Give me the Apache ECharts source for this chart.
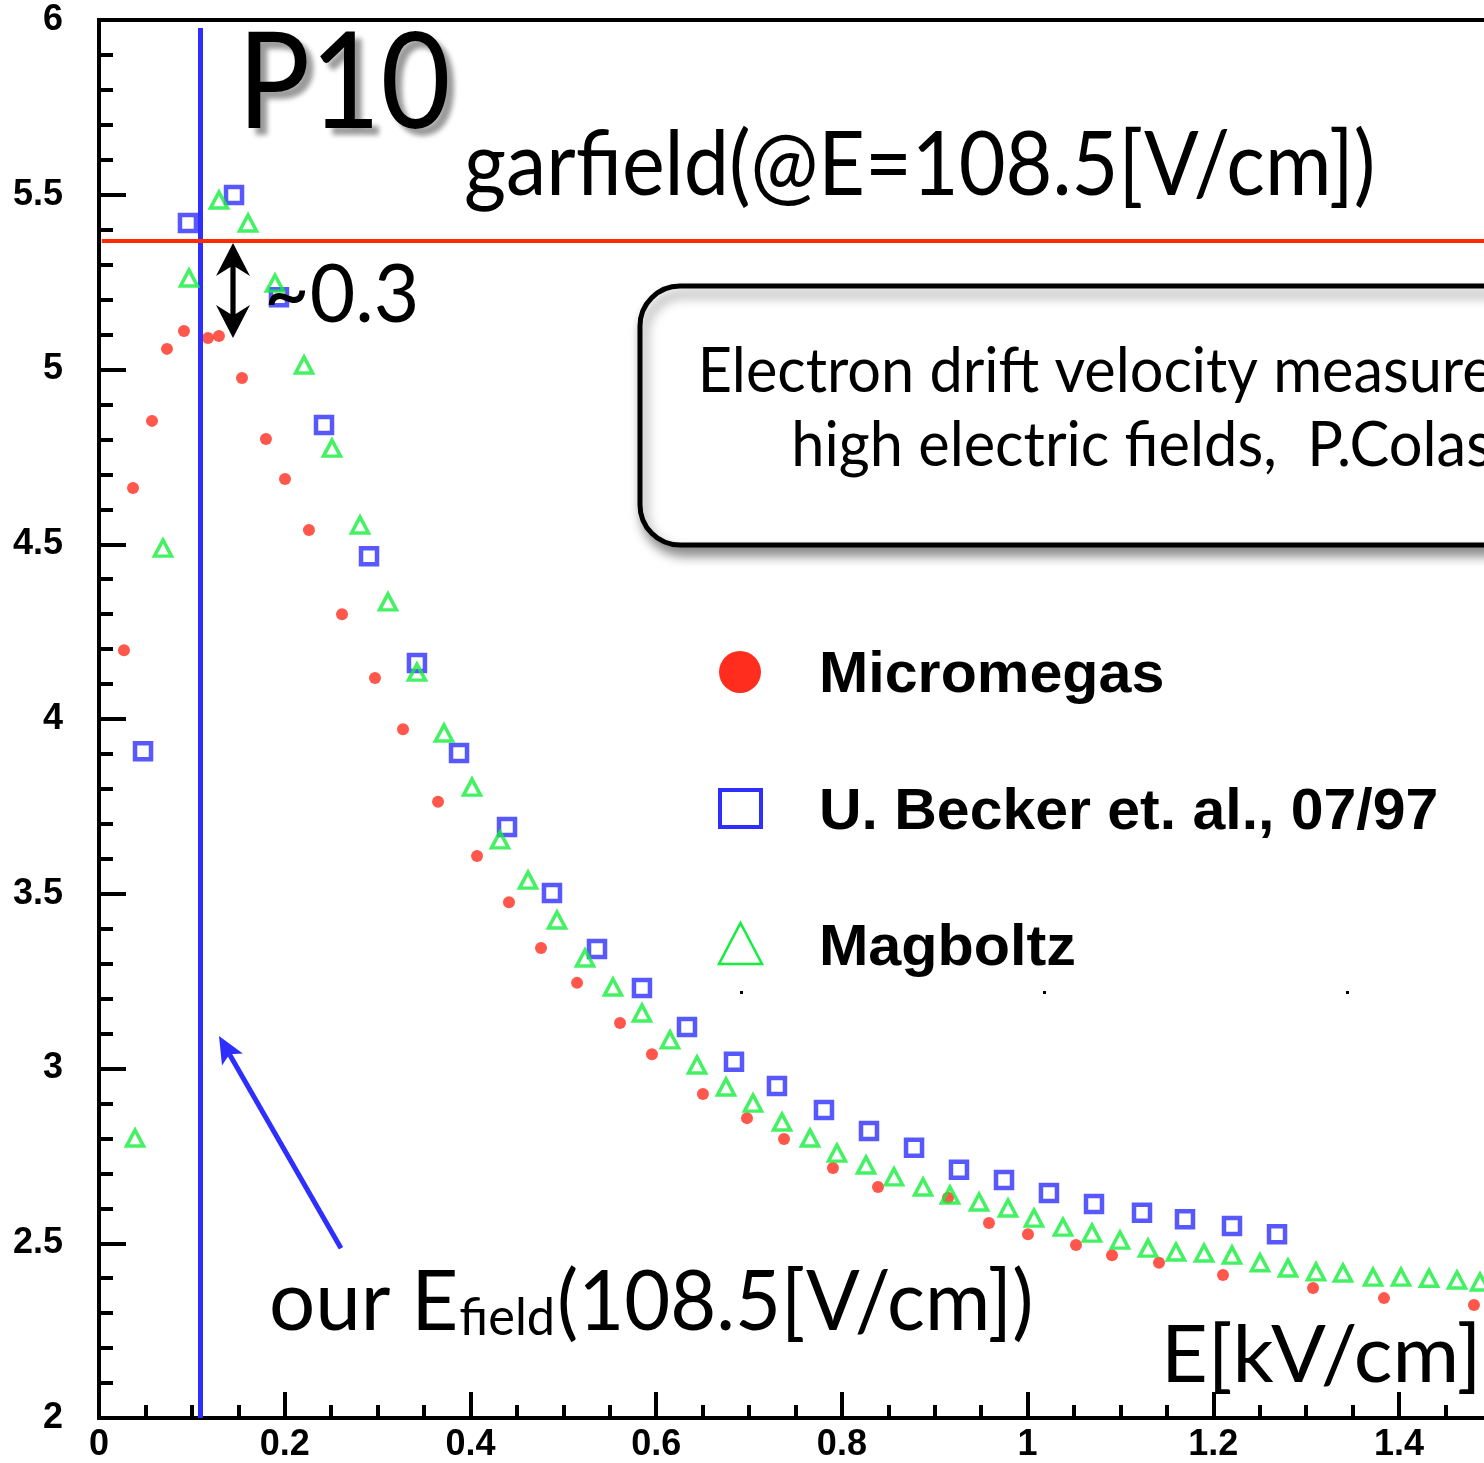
<!DOCTYPE html>
<html><head><meta charset="utf-8">
<script src="https://cdn.jsdelivr.net/npm/echarts@6/dist/echarts.min.js"></script>
<style>html,body{margin:0;padding:0;background:#fff}#c{width:1484px;height:1463px}</style>
</head><body><div id="c"></div>
<script>
// ---------------- data (E in kV/cm, drift velocity in cm/us) ----------------
const micromegasE = [0.0269,0.0366,0.0571,0.0732,0.0915,0.1174,0.1292,0.1540,0.1798,0.2003,0.2261,0.2617,0.2972,0.3274,0.3651,0.4071,0.4415,0.4760,0.5148,0.5611,0.5955,0.6504,0.6978,0.7377,0.7904,0.8389,0.9143,0.9584,1.0004,1.0521,1.0909,1.1415,1.2104,1.3074,1.3838,1.4807];
const micromegasV = [4.197,4.661,4.853,5.059,5.110,5.090,5.096,4.976,4.801,4.687,4.541,4.300,4.117,3.971,3.763,3.608,3.476,3.345,3.245,3.130,3.041,2.927,2.858,2.798,2.715,2.661,2.630,2.558,2.526,2.495,2.466,2.444,2.409,2.372,2.343,2.323];
const beckerE = [0.0474,0.0958,0.1454,0.1938,0.2423,0.2908,0.3424,0.3877,0.4394,0.4878,0.5363,0.5847,0.6332,0.6838,0.7301,0.7807,0.8292,0.8777,0.9261,0.9746,1.0230,1.0715,1.1232,1.1695,1.2201,1.2686];
const beckerV = [3.908,5.419,5.499,5.207,4.841,4.466,4.160,3.903,3.691,3.502,3.342,3.230,3.119,3.019,2.950,2.881,2.821,2.773,2.710,2.681,2.644,2.612,2.587,2.569,2.549,2.526];
const magboltzE = [0.0388,0.0689,0.0969,0.1292,0.1605,0.1895,0.2208,0.2509,0.2811,0.3112,0.3424,0.3715,0.4017,0.4318,0.4620,0.4932,0.5234,0.5535,0.5847,0.6149,0.6440,0.6752,0.7043,0.7355,0.7657,0.7947,0.8260,0.8561,0.8874,0.9164,0.9477,0.9789,1.0069,1.0381,1.0693,1.0995,1.1297,1.1598,1.1900,1.2201,1.2503,1.2804,1.3106,1.3396,1.3720,1.4021,1.4323,1.4624,1.4872];
const magboltzV = [2.801,4.489,5.262,5.485,5.419,5.247,5.013,4.775,4.555,4.335,4.134,3.960,3.805,3.654,3.539,3.425,3.316,3.233,3.159,3.082,3.010,2.947,2.901,2.847,2.801,2.758,2.724,2.690,2.661,2.638,2.618,2.601,2.572,2.546,2.529,2.509,2.486,2.475,2.472,2.466,2.444,2.429,2.418,2.415,2.403,2.403,2.400,2.395,2.389];
const seriesNames = ['Micromegas', 'U. Becker et. al., 07/97', 'Magboltz'];
const xAxisRange = [0, 1.6, 0.2];   // min, max, interval
const yAxisRange = [2, 6, 0.5];
const E_FIELD = 0.1085;            // our field, kV/cm
const GARFIELD_V = 5.369;          // garfield drift velocity
const BLUE_LINE_TOP = 5.977;
const ARROW_X = 0.1443, ARROW_TOP = 5.362, ARROW_BOT = 5.090;
const BLUE_ARROW_TIP = [0.1292, 3.093], BLUE_ARROW_TAIL = [0.2606, 2.486];

const RED = '#ff2d1e', BLUE = '#2e2eff', GREEN = '#14ee3c';
const zip = (a, b) => a.map((v, i) => [v, b[i]]);

const chart = echarts.init(document.getElementById('c'), null, {renderer: 'canvas'});
const labelFont = {fontFamily: '"Liberation Sans", Arial, sans-serif', fontWeight: 'bold', fontSize: 36, color: '#000'};

chart.setOption({
  animation: false,
  backgroundColor: '#fff',
  grid: {left: 99, top: 20, width: 1.6 * 928.6, height: 1398, show: true, borderColor: '#000', borderWidth: 4,
         containLabel: false, outerBoundsMode: 'none'},
  xAxis: {
    type: 'value', min: xAxisRange[0], max: xAxisRange[1], interval: xAxisRange[2],
    axisLine: {show: true, onZero: false, lineStyle: {color: '#000', width: 4}},
    axisTick: {show: true, inside: true, length: 26, lineStyle: {color: '#000', width: 4}},
    minorTick: {show: true, splitNumber: 4, length: 13, lineStyle: {color: '#000', width: 4}},
    splitLine: {show: false},
    axisLabel: Object.assign({margin: 9}, labelFont)
  },
  yAxis: {
    type: 'value', min: yAxisRange[0], max: yAxisRange[1], interval: yAxisRange[2],
    axisLine: {show: true, onZero: false, lineStyle: {color: '#000', width: 4}},
    axisTick: {show: true, inside: true, length: 27, lineStyle: {color: '#000', width: 4}},
    minorTick: {show: true, splitNumber: 5, length: 14, lineStyle: {color: '#000', width: 4}},
    splitLine: {show: false},
    axisLabel: Object.assign({margin: 36}, labelFont)
  },
  series: [
    {
      name: seriesNames[0], type: 'scatter', data: zip(micromegasE, micromegasV),
      symbol: 'circle', symbolSize: 12, itemStyle: {color: RED}, z: 3,
      emphasis: {disabled: true},
      markLine: {
        silent: true, symbol: 'none', label: {show: false}, animation: false,
        data: [
          [{coord: [E_FIELD, BLUE_LINE_TOP], lineStyle: {color: BLUE, width: 5, type: 'solid'}}, {coord: [E_FIELD, yAxisRange[0]]}],
          [{coord: [0.003, GARFIELD_V], lineStyle: {color: '#ff2a00', width: 4, type: 'solid'}}, {coord: [xAxisRange[1], GARFIELD_V]}]
        ]
      }
    },
    {
      name: seriesNames[1], type: 'scatter', data: zip(beckerE, beckerV),
      symbol: 'rect', symbolSize: 16, z: 4,
      itemStyle: {color: 'rgba(255,255,255,0)', borderColor: BLUE, borderWidth: 4.5},
      emphasis: {disabled: true}
    },
    {
      name: seriesNames[2], type: 'scatter', data: zip(magboltzE, magboltzV),
      symbol: 'triangle', symbolSize: [17, 16], z: 5,
      itemStyle: {color: 'rgba(255,255,255,0)', borderColor: GREEN, borderWidth: 3.5},
      emphasis: {disabled: true}
    }
  ]
});

// ---------------- annotations ----------------
const mctx = document.createElement('canvas').getContext('2d');
function fitText(o) {
  mctx.font = o.font;
  mctx.textAlign = 'left';
  mctx.textBaseline = 'alphabetic';
  const mw = mctx.measureText(o.measure || o.text);
  const mr = mctx.measureText(o.ref);
  const mt = mctx.measureText(o.text);
  mctx.textBaseline = 'middle';
  const mm = mctx.measureText(o.text);
  const d = mt.actualBoundingBoxAscent - mm.actualBoundingBoxAscent;
  const inkW = mw.actualBoundingBoxLeft + mw.actualBoundingBoxRight;
  const sx = (o.right - o.left) / inkW;
  const sy = (o.baseline - o.top) / mr.actualBoundingBoxAscent;
  const style = {
    text: o.text, font: o.font, x: mw.actualBoundingBoxLeft, y: -d,
    align: 'left', verticalAlign: 'middle', textAlign: 'left', textVerticalAlign: 'middle',
    fill: o.fill || '#000'
  };
  if (o.shadow) {
    Object.assign(style, {
      textShadowColor: o.shadow[0], textShadowBlur: o.shadow[1], textShadowOffsetX: o.shadow[2], textShadowOffsetY: o.shadow[3],
      shadowColor: o.shadow[0], shadowBlur: o.shadow[1], shadowOffsetX: o.shadow[2], shadowOffsetY: o.shadow[3]
    });
  }
  return {type: 'text', x: o.left, y: o.baseline, scaleX: sx, scaleY: sy, originX: 0, originY: 0,
          z: o.z || 100, silent: true, style: style};
}
const px = (x, y) => chart.convertToPixel({gridIndex: 0}, [x, y]);

const GILL = 'normal 400 80px Lato, "Open Sans", sans-serif';
const HELV = 'normal bold 58px "Liberation Sans", Arial, sans-serif';

const g = [];
// info box
g.push({type: 'rect', z: 90, silent: true, shape: {x: 640, y: 286, width: 1000, height: 259, r: 40},
        style: {fill: '#fff', stroke: '#000', lineWidth: 5, shadowColor: 'rgba(0,0,0,0.45)', shadowBlur: 12, shadowOffsetX: 4, shadowOffsetY: 8}});
g.push(fitText({text: 'Electron drift velocity measurements at', measure: 'Electron drift velocity measure', font: GILL, ref: 'E', left: 703, right: 1492, top: 348, baseline: 392}));
g.push(fitText({text: 'high electric fields,  P.Colas et al.', measure: 'high electric fields,  P.Colas', font: GILL, ref: 'h', left: 795, right: 1490, top: 421, baseline: 466}));

// titles
g.push(fitText({text: 'P10', font: GILL, ref: 'P', left: 248, right: 447, top: 33, baseline: 128, shadow: ['rgba(0,0,0,0.4)', 5, 7, 7]}));
g.push(fitText({text: 'garfield(@E=108.5[V/cm])', font: GILL, ref: 'E', left: 466, right: 1372, top: 132, baseline: 195}));
g.push(fitText({text: '~0.3', font: GILL, ref: '0', left: 268, right: 415, top: 263, baseline: 322}));
g.push(fitText({text: 'our E', font: GILL, ref: 'E', left: 272, right: 455, top: 1270, baseline: 1330}));
g.push(fitText({text: 'field', font: GILL, ref: 'f', left: 460, right: 552, top: 1297, baseline: 1335}));
g.push(fitText({text: '(108.5[V/cm])', font: GILL, ref: '1', left: 560, right: 1030, top: 1270, baseline: 1330}));
g.push(fitText({text: 'E[kV/cm]', font: GILL, ref: 'E', left: 1168, right: 1475, top: 1325, baseline: 1382}));

// legend
g.push({type: 'circle', z: 100, silent: true, shape: {cx: 740, cy: 672, r: 21}, style: {fill: RED}});
g.push({type: 'rect', z: 100, silent: true, shape: {x: 720, y: 790, width: 41, height: 37}, style: {fill: 'none', stroke: BLUE, lineWidth: 4}});
g.push({type: 'polygon', z: 100, silent: true, shape: {points: [[740.5, 923], [762, 964], [719, 964]]}, style: {fill: 'none', stroke: GREEN, lineWidth: 2.5}});
g.push(fitText({text: seriesNames[0], font: HELV, ref: 'M', left: 822, right: 1162, top: 652, baseline: 692}));
g.push(fitText({text: seriesNames[1], font: HELV, ref: 'U', left: 822, right: 1436, top: 789, baseline: 829}));
g.push(fitText({text: seriesNames[2], font: HELV, ref: 'M', left: 822, right: 1074, top: 925, baseline: 965}));
[[740, 991], [1043, 991], [1346, 991]].forEach(p => g.push({type: 'rect', z: 100, silent: true, shape: {x: p[0], y: p[1], width: 3, height: 3}, style: {fill: '#000'}}));

// black double arrow (~0.3)
(function () {
  const [ax, aT] = px(ARROW_X, ARROW_TOP);
  const aB = px(ARROW_X, ARROW_BOT)[1];
  const hw = 17, hl = 33, notch = 9, sw = 2.6;
  g.push({type: 'polygon', z: 100, silent: true, shape: {points: [
    [ax, aT], [ax + hw, aT + hl], [ax + sw, aT + hl - notch], [ax + sw, aB - hl + notch], [ax + hw, aB - hl],
    [ax, aB], [ax - hw, aB - hl], [ax - sw, aB - hl + notch], [ax - sw, aT + hl - notch], [ax - hw, aT + hl]
  ]}, style: {fill: '#000'}});
})();

// blue arrow
(function () {
  const tip = px(BLUE_ARROW_TIP[0], BLUE_ARROW_TIP[1]);
  const tail = px(BLUE_ARROW_TAIL[0], BLUE_ARROW_TAIL[1]);
  const dx = tip[0] - tail[0], dy = tip[1] - tail[1];
  const L = Math.hypot(dx, dy), ux = dx / L, uy = dy / L, nx = -uy, ny = ux;
  const hl = 27, hw = 12, nb = 21;
  const back = [tip[0] - ux * hl, tip[1] - uy * hl];
  const notch = [tip[0] - ux * nb, tip[1] - uy * nb];
  g.push({type: 'line', z: 100, silent: true, shape: {x1: tail[0], y1: tail[1], x2: notch[0], y2: notch[1]}, style: {stroke: BLUE, lineWidth: 5}});
  g.push({type: 'polygon', z: 100, silent: true, shape: {points: [
    tip, [back[0] + nx * hw, back[1] + ny * hw], notch, [back[0] - nx * hw, back[1] - ny * hw]
  ]}, style: {fill: BLUE}});
})();

chart.setOption({graphic: {elements: g}});
</script>
</body></html>
